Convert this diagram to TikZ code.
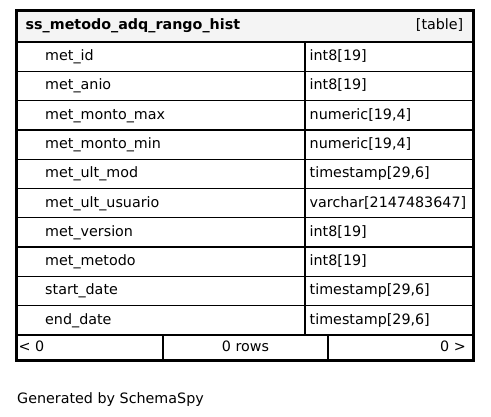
\documentclass[tikz,border=0pt]{standalone}
\usepackage{fontspec}
\setmainfont{DejaVu Sans}
\begin{document}
\begin{tikzpicture}[x=1pt,y=-1pt,
  txt/.style={inner sep=0pt,font=\fontsize{14.3}{16}\selectfont},
  hdr/.style={txt,font=\fontsize{14.3}{16}\selectfont\bfseries},
  thin/.style={line width=1.3pt,black},
  outer/.style={line width=3.3pt,black}]
\useasboundingbox (0,0) rectangle (491,417);
% header background
\fill[fill={rgb,255:red,244;green,244;blue,244}] (16.5,10.8) rectangle (473.3,42);
% row lines
\foreach \y in {42,71.3,100.6,129.9,159.2,188.5,217.8,247.1,276.4,305.7,335}
  \draw[thin] (16.5,\y) -- (473.3,\y);
\draw[thin] (305,42) -- (305,335);
\draw[thin] (163,335) -- (163,360.5);
\draw[thin] (328,335) -- (328,360.5);
\draw[outer] (16.5,10.8) rectangle (473.3,360.5);
% header
\node[hdr,anchor=mid west] (title) at (25.5,27.2) {ss\_metodo\_adq\_rango\_hist};
\node[txt,anchor=mid east] (kind) at (463.5,27.2) {[table]};
% rows
\foreach \n/\t [count=\i from 0] in {{met\_id}/{int8[19]},{met\_anio}/{int8[19]},{met\_monto\_max}/{numeric[19,4]},{met\_monto\_min}/{numeric[19,4]},{met\_ult\_mod}/{timestamp[29,6]},{met\_ult\_usuario}/{varchar[2147483647]},{met\_version}/{int8[19]},{met\_metodo}/{int8[19]},{start\_date}/{timestamp[29,6]},{end\_date}/{timestamp[29,6]}}{
  \pgfmathsetmacro{\yc}{42+29.3*\i+15.8}
  \node[txt,anchor=mid west] (c\i) at (45,\yc) {\n};
  \node[txt,anchor=mid west] (t\i) at (309.5,\yc) {\t};
}
% footer
\node[txt,anchor=mid west] (fl) at (18.5,348.3) {< 0};
\node[txt,anchor=mid] (fc) at (245.5,348.3) {0 rows};
\node[txt,anchor=mid east] (fr) at (466,348.3) {0 >};
\node[txt,anchor=base west] (gen) at (17,403) {Generated by SchemaSpy};
\end{tikzpicture}
\end{document}
